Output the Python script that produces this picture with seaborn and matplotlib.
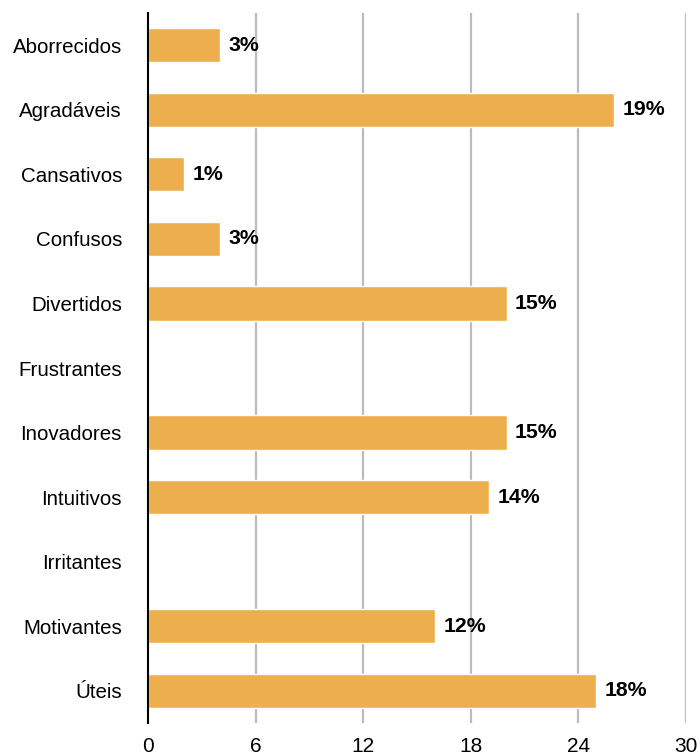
import matplotlib
matplotlib.use("Agg")
import matplotlib.pyplot as plt
import seaborn as sns
import pandas as pd

categories = ["Aborrecidos", "Agradáveis", "Cansativos", "Confusos", "Divertidos",
              "Frustrantes", "Inovadores", "Intuitivos", "Irritantes", "Motivantes", "Úteis"]
counts = [4, 26, 2, 4, 20, 0, 20, 19, 0, 16, 25]
pct_labels = ["3%", "19%", "1%", "3%", "15%", "", "15%", "14%", "", "12%", "18%"]
xticks = [0, 6, 12, 18, 24, 30]

df = pd.DataFrame({"cat": categories, "val": counts})

sns.set_theme(style="white")
plt.rcParams["font.family"] = ["Liberation Sans", "DejaVu Sans"]

fig = plt.figure(figsize=(7.0, 7.56), dpi=100)
left, right, top, bottom = 148.3, 686, 13, 723
ax = fig.add_axes([left/700, 1 - bottom/756, (right - left)/700, (bottom - top)/756])

sns.barplot(data=df, y="cat", x="val", orient="h", color="#EDAF4D", saturation=1,
            width=0.53, ax=ax)

ax.set_xlim(0, 30)
ax.set_xticks(xticks)
ax.set_xticklabels([str(t) for t in xticks], fontsize=15, color="black")
ax.tick_params(axis="y", labelsize=14.8, colors="black", length=0, pad=19)
ax.tick_params(axis="x", length=0, pad=10)
ax.set_xlabel("")
ax.set_ylabel("")

for t in xticks[1:]:
    ax.axvline(t, color="#bbbbbb", lw=1.6, zorder=0)
ax.set_axisbelow(True)

for s in ["top", "right", "bottom"]:
    ax.spines[s].set_visible(False)
ax.spines["left"].set_color("black")
ax.spines["left"].set_linewidth(1.5)
ax.spines["left"].set_zorder(5)

ax.bar_label(ax.containers[0], labels=pct_labels, padding=6, fontsize=15.3,
             fontweight="bold", color="black")

fig.savefig("out.png", dpi=100)
